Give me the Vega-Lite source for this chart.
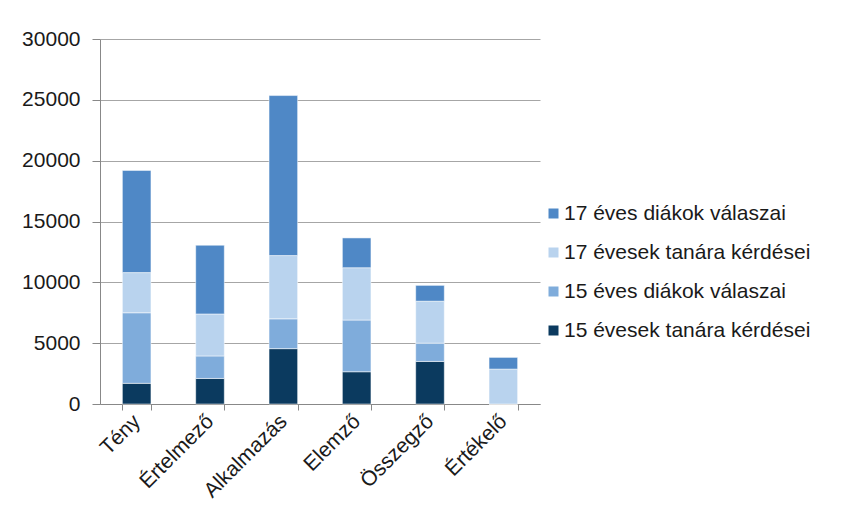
{
  "$schema": "https://vega.github.io/schema/vega-lite/v6.json",
  "width": 440,
  "height": 365,
  "autosize": {"type": "none"},
  "padding": {"left": 100, "top": 39, "right": 308, "bottom": 117},
  "background": "white",
  "config": {"view": {"stroke": null}, "font": "Liberation Sans"},
  "data": {
    "values": [
      {"category": "Tény", "series": "15 évesek tanára kérdései", "value": 1700},
      {"category": "Tény", "series": "15 éves diákok válaszai", "value": 5800},
      {"category": "Tény", "series": "17 évesek tanára kérdései", "value": 3300},
      {"category": "Tény", "series": "17 éves diákok válaszai", "value": 8400},
      {"category": "Értelmező", "series": "15 évesek tanára kérdései", "value": 2100},
      {"category": "Értelmező", "series": "15 éves diákok válaszai", "value": 1850},
      {"category": "Értelmező", "series": "17 évesek tanára kérdései", "value": 3450},
      {"category": "Értelmező", "series": "17 éves diákok válaszai", "value": 5650},
      {"category": "Alkalmazás", "series": "15 évesek tanára kérdései", "value": 4550},
      {"category": "Alkalmazás", "series": "15 éves diákok válaszai", "value": 2450},
      {"category": "Alkalmazás", "series": "17 évesek tanára kérdései", "value": 5200},
      {"category": "Alkalmazás", "series": "17 éves diákok válaszai", "value": 13150},
      {"category": "Elemző", "series": "15 évesek tanára kérdései", "value": 2650},
      {"category": "Elemző", "series": "15 éves diákok válaszai", "value": 4250},
      {"category": "Elemző", "series": "17 évesek tanára kérdései", "value": 4300},
      {"category": "Elemző", "series": "17 éves diákok válaszai", "value": 2450},
      {"category": "Összegző", "series": "15 évesek tanára kérdései", "value": 3500},
      {"category": "Összegző", "series": "15 éves diákok válaszai", "value": 1500},
      {"category": "Összegző", "series": "17 évesek tanára kérdései", "value": 3450},
      {"category": "Összegző", "series": "17 éves diákok válaszai", "value": 1300},
      {"category": "Értékelő", "series": "15 évesek tanára kérdései", "value": 0},
      {"category": "Értékelő", "series": "15 éves diákok válaszai", "value": 0},
      {"category": "Értékelő", "series": "17 évesek tanára kérdései", "value": 2870},
      {"category": "Értékelő", "series": "17 éves diákok válaszai", "value": 960}
    ]
  },
  "transform": [
    {"calculate": "datum.series === '15 évesek tanára kérdései' ? 0 : datum.series === '15 éves diákok válaszai' ? 1 : datum.series === '17 évesek tanára kérdései' ? 2 : 3", "as": "stackOrder"}
  ],
  "mark": {"type": "bar", "stroke": "#ffffff", "strokeOpacity": 0.5, "strokeWidth": 1},
  "encoding": {
    "x": {
      "field": "category",
      "type": "nominal",
      "sort": ["Tény", "Értelmező", "Alkalmazás", "Elemző", "Összegző", "Értékelő"],
      "scale": {"paddingInner": 0.61, "paddingOuter": 0.305},
      "axis": {
        "title": null,
        "labelAngle": -45,
        "labelAlign": "right",
        "labelBaseline": "middle",
        "labelFontSize": 21,
        "labelColor": "#1a1a1a",
        "labelPadding": 8,
        "tickBand": "extent",
        "tickSize": 6,
        "tickColor": "#888888",
        "domainColor": "#888888",
        "grid": false
      }
    },
    "y": {
      "field": "value",
      "type": "quantitative",
      "stack": "zero",
      "scale": {"domain": [0, 30000]},
      "axis": {
        "title": null,
        "values": [0, 5000, 10000, 15000, 20000, 25000, 30000],
        "format": "d",
        "labelFontSize": 21,
        "labelColor": "#1a1a1a",
        "tickSize": 8,
        "labelPadding": 12,
        "tickColor": "#888888",
        "domainColor": "#888888",
        "gridColor": "#a6a6a6"
      }
    },
    "color": {
      "field": "series",
      "type": "nominal",
      "scale": {
        "domain": ["17 éves diákok válaszai", "17 évesek tanára kérdései", "15 éves diákok válaszai", "15 évesek tanára kérdései"],
        "range": ["#4f88c6", "#b9d3ee", "#7facdb", "#0b3a5f"]
      },
      "legend": {
        "title": null,
        "orient": "none",
        "legendX": 443,
        "legendY": 164,
        "symbolType": "square",
        "symbolSize": 100,
        "symbolStrokeWidth": 0,
        "labelFontSize": 21,
        "labelColor": "#1a1a1a",
        "labelOffset": 0,
        "labelLimit": 400,
        "rowPadding": 17
      }
    },
    "order": {"field": "stackOrder", "type": "quantitative"}
  }
}
